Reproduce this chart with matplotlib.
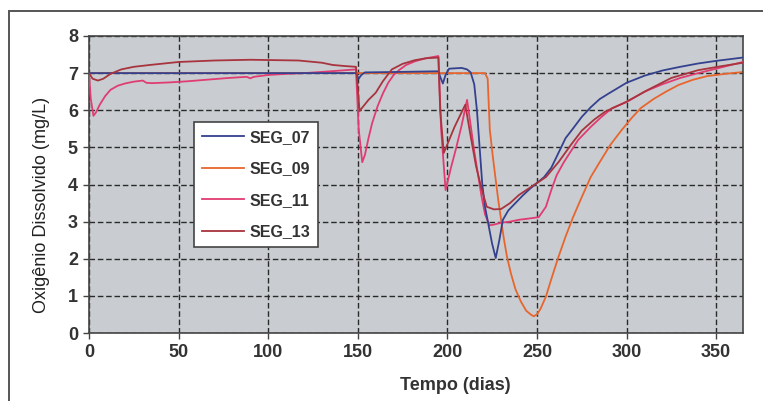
import matplotlib.pyplot as plt
from matplotlib.patches import Rectangle

# dados (dias, OD em mg/L)
dias_07 = [0, 149, 150.5, 152, 154, 170, 195, 196, 197.5, 199, 201, 208, 211, 213, 215, 216.5, 218,
           219.5, 221, 223, 225, 227, 229, 231, 234, 238, 242, 246, 250, 254, 258, 262, 266, 270,
           275, 280, 285, 290, 300, 310, 320, 330, 340, 350, 365]
od_07 = [7.0, 7.0, 6.85, 6.95, 7.02, 7.03, 7.05, 6.9, 6.72, 6.95, 7.12, 7.14, 7.1, 7.02, 6.7, 6.0, 5.0,
         4.0, 3.4, 2.9, 2.4, 2.02, 2.5, 3.05, 3.3, 3.5, 3.7, 3.88, 4.04, 4.2, 4.45, 4.85, 5.25, 5.5,
         5.82, 6.08, 6.3, 6.45, 6.74, 6.93, 7.07, 7.17, 7.26, 7.33, 7.42]

dias_09 = [0, 221, 222.5, 223.7, 225.5, 227, 228.5, 230, 231.5, 233.3, 235.5, 238, 241, 244, 246.5,
           248.2, 250, 252, 255, 258, 262, 266, 270, 274, 280, 285, 291, 297, 303, 308, 315, 322,
           329, 337, 345, 355, 365]
od_09 = [7.0, 7.0, 6.85, 5.47, 4.7, 4.12, 3.55, 3.05, 2.55, 2.05, 1.6, 1.18, 0.85, 0.6, 0.5,
         0.45, 0.5, 0.65, 0.98, 1.45, 2.05, 2.6, 3.1, 3.55, 4.2, 4.6, 5.07, 5.45, 5.8, 6.06, 6.3, 6.5,
         6.68, 6.82, 6.92, 6.98, 7.03]

dias_11 = [0, 1, 2.5, 4, 6, 9, 12, 16, 20, 25, 30, 32, 35, 45, 55, 65, 78, 88, 90, 92, 100, 110, 120,
           135, 149, 150.5, 152.5, 154, 156, 158, 161, 164, 167, 170, 173, 177, 182, 188, 195, 196.5,
           199, 202, 205, 208, 211, 213, 215, 217, 219, 221, 223.5, 226, 230, 235, 240, 245, 251, 255,
           258, 261, 265, 269, 273, 280, 286, 292, 300, 310, 320, 330, 340, 350, 365]
od_11 = [7.0, 6.3, 5.85, 5.95, 6.15, 6.38, 6.55, 6.66, 6.72, 6.77, 6.8, 6.74, 6.73, 6.75, 6.78, 6.82,
         6.87, 6.9, 6.86, 6.9, 6.95, 6.98, 7.0, 7.05, 7.1, 5.5, 4.6, 4.8, 5.25, 5.65, 6.1, 6.45, 6.74,
         6.95, 7.08, 7.22, 7.32, 7.4, 7.46, 5.5, 3.85, 4.45, 5.0, 5.6, 6.28, 5.6, 4.9, 4.3, 3.7, 3.2,
         2.9, 2.92, 2.97, 3.0, 3.05, 3.08, 3.12, 3.4, 3.85, 4.25, 4.6, 4.9, 5.2, 5.55, 5.82, 6.06, 6.22,
         6.5, 6.7, 6.87, 7.0, 7.12, 7.3]

dias_13 = [0, 2, 5, 8, 12, 18, 25, 34, 50, 70, 90, 117, 130, 136, 143, 149, 150, 151, 153, 156, 160,
           164, 169, 175, 182, 188, 195, 196, 198, 201, 204, 207, 210, 213, 216, 219, 222, 226, 230,
           235, 240, 245, 250, 255, 262, 269, 275, 282, 288, 300, 312, 325, 340, 352, 365]
od_13 = [7.0, 6.85, 6.8, 6.85, 6.98, 7.1, 7.17, 7.22, 7.3, 7.34, 7.36, 7.34, 7.28, 7.22, 7.19, 7.17,
         6.6, 5.98, 6.1, 6.28, 6.47, 6.78, 7.1, 7.25, 7.35, 7.4, 7.42, 6.0, 4.85, 5.2, 5.55, 5.85, 6.15,
         5.3, 4.5, 3.9, 3.4, 3.33, 3.34, 3.5, 3.72, 3.88, 4.04, 4.2, 4.6, 5.07, 5.45, 5.75, 5.96, 6.23,
         6.55, 6.87, 7.08, 7.18, 7.28]

# (nome, dias, valores, cor, ordem de desenho)
series = [
    ('SEG_07', dias_07, od_07, '#34418f', 4),
    ('SEG_09', dias_09, od_09, '#e8652e', 2),
    ('SEG_11', dias_11, od_11, '#e03c72', 3),
    ('SEG_13', dias_13, od_13, '#a8343e', 5),
]

plt.rcParams['font.family'] = ['Liberation Sans', 'DejaVu Sans']

W, H = 763, 401
fig = plt.figure(figsize=(W / 100, H / 100), dpi=100)
fig.patch.set_facecolor('white')

# moldura externa (área do gráfico)
fig.add_artist(Rectangle((9 / W, -0.05), 1.1, (H - 11) / H + 0.05, transform=fig.transFigure,
                         fill=False, edgecolor='#555555', linewidth=1.4))

ax = fig.add_axes([89 / W, (H - 333) / H, (743 - 89) / W, (333 - 36) / H])
ax.set_facecolor('#c9cdd1')

for nome, d, v, cor, z in series:
    ax.plot(d, v, color=cor, linewidth=1.3, label=nome, zorder=z)

ax.set_xlim(0, 365)
ax.set_ylim(0, 8)
ax.set_xticks(range(0, 351, 50))
ax.set_yticks(range(0, 9))
ax.grid(True, color='#2a2a2a', linestyle=(0, (4, 2)), linewidth=1.0)
ax.set_axisbelow(True)
for s in ax.spines.values():
    s.set_color('#444444')
    s.set_linewidth(1.2)
ax.tick_params(direction='out', length=4, width=1, color='#444444', labelsize=13,
               labelcolor='#333333', pad=4)
for lbl in ax.get_xticklabels() + ax.get_yticklabels():
    lbl.set_fontweight('bold')

fig.text(455 / W, 1 - 385 / H, 'Tempo (dias)', ha='center', va='center', fontsize=13,
         fontweight='bold', color='#333333')
fig.text(42 / W, 1 - 205 / H, 'Oxigênio Dissolvido (mg/L)', ha='center', va='center',
         rotation=90, fontsize=13, color='#222222')

# legenda (ordem fixa das séries)
handles, labels = ax.get_legend_handles_labels()
leg = ax.legend(handles, labels, loc='upper left',
                bbox_to_anchor=((194 - 89) / (743 - 89), (333 - 122) / (333 - 36)),
                frameon=True, fancybox=False, framealpha=1, edgecolor='#444444',
                prop={'weight': 'bold', 'size': 11.5}, handlelength=2.6, handletextpad=0.35,
                labelspacing=1.03, borderpad=0.5, borderaxespad=0)
leg.get_frame().set_linewidth(1.2)
leg.set_zorder(10)
for t in leg.get_texts():
    t.set_color('#333333')

plt.savefig('out.png', dpi=100)
